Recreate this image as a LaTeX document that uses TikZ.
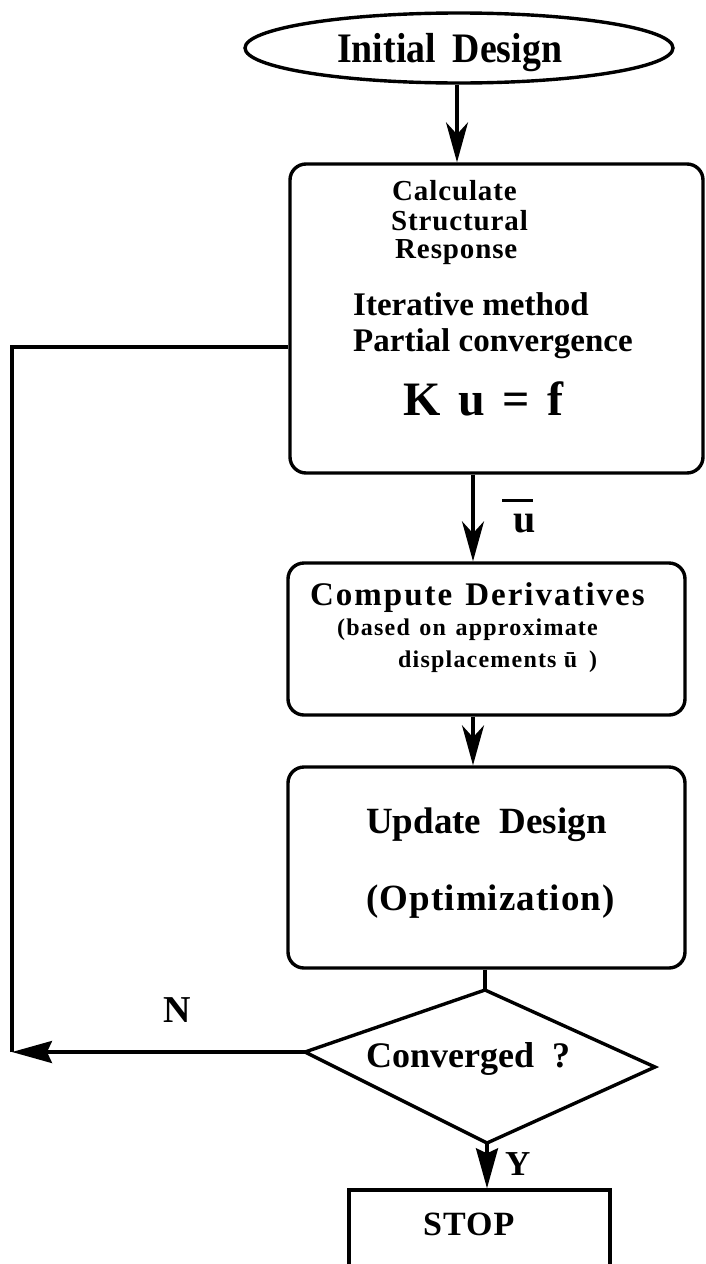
\documentclass[tikz,border=0pt]{standalone}
\usepackage{fontspec}
\setmainfont{Liberation Serif}
\usetikzlibrary{arrows.meta,shapes.geometric,calc}
\newcommand\fsz[1]{\fontsize{#1}{#1}\selectfont\bfseries}
\begin{document}
\begin{tikzpicture}[x=1pt,y=-1pt,
  frame/.style={draw, line width=3.4pt},
  rbox/.style={frame, rectangle, rounded corners=16pt, inner sep=0pt},
  txt/.style={inner sep=0pt, anchor=base west},
  link/.style={line width=3.3pt},
  openhead/.style={link, -{Stealth[length=40pt,width=22pt,inset=12pt]}},
  solidhead/.style={link, -{Stealth[length=40pt,width=22pt,inset=5pt]}}]
\useasboundingbox (0,0) rectangle (705,1264);
\clip (0,0) rectangle (705,1264);

% shapes
\node[frame, ellipse, inner sep=0pt, minimum width=428pt, minimum height=70pt] (start) at (459,48) {};
\node[rbox, minimum width=413pt, minimum height=309pt] (calc) at (496.5,318.5) {};
\node[rbox, minimum width=397pt, minimum height=152pt] (deriv) at (486.5,639) {};
\node[rbox, minimum width=397pt, minimum height=201pt] (update) at (486.5,867.5) {};
\node[frame, rectangle, inner sep=0pt, minimum width=261pt, minimum height=110pt] (stop) at (479.5,1245) {};
\coordinate (dT) at (485,990);
\coordinate (dR) at (655,1067);
\coordinate (dB) at (487,1143);
\coordinate (dL) at (305,1052);
\draw[frame, line join=miter] (dT) -- (dR) -- (dB) -- (dL) -- cycle;

% texts
\node[txt, font=\fsz{42}] (tInit) at (337,62) {\scalebox{0.9}[1]{Initial\hspace{0.45em}Design}};
\node[txt, font=\fsz{29}\addfontfeatures{LetterSpace=3}] (tCalc) at (392,200) {Calculate};
\node[txt, font=\fsz{29}\addfontfeatures{LetterSpace=3}] (tStruct) at (391,230) {Structural};
\node[txt, font=\fsz{29}\addfontfeatures{LetterSpace=3}] (tResp) at (395,258) {Response};
\node[txt, font=\fsz{33}] (tIter) at (353,315) {Iterative method};
\node[txt, font=\fsz{33}] (tPart) at (353,351) {Partial convergence};
\node[txt, font=\fsz{48}] (tKuf) at (403,415) {K\hspace{0.37em}u\hspace{0.37em}=\hspace{0.37em}f};
\node[txt, font=\fsz{33}\addfontfeatures{LetterSpace=6}] (tComp) at (310,605) {Compute\hspace{0.4em}Derivatives};
\node[txt, font=\fsz{24}\addfontfeatures{LetterSpace=5}] (tBased) at (337,635) {(based\hspace{0.4em}on\hspace{0.4em}approximate};
\node[txt, font=\fsz{24}\addfontfeatures{LetterSpace=5}] (tDisp) at (398,667) {displacements ū\hspace{0.5em})};
\node[txt, font=\fsz{37}] (tUpd) at (366,833) {Update\hspace{0.5em}Design};
\node[txt, font=\fsz{37}\addfontfeatures{LetterSpace=3}] (tOpt) at (366,910) {(Optimization)};
\node[txt, font=\fsz{36}] (tConv) at (366,1067) {Converged\hspace{0.5em}?};
\node[txt, font=\fsz{34}\addfontfeatures{LetterSpace=3}] (tStop) at (423,1235) {STOP};
\node[txt, font=\fsz{38}] (tN) at (163,1022) {N};
\node[txt, font=\fsz{35}] (tY) at (505,1175) {Y};
\node[txt, font=\fsz{40}] (tU) at (513,532) {u};
\draw[line width=2.5pt] ([xshift=-11pt,yshift=13pt]tU.north west) -- ++(31,0);

% connectors
\coordinate (a1) at (457,0);
\coordinate (a2) at (473,0);
\draw[openhead] (a1 |- start.south) -- (a1 |- calc.north);
\draw[openhead] (a2 |- calc.south) -- (a2 |- deriv.north);
\draw[openhead] (a2 |- deriv.south) -- (a2 |- update.north);
\draw[link] (dT |- update.south) -- (dT);
\draw[solidhead] (dB) -- (dB |- stop.north);
\coordinate (c1) at (12,1052);
\coordinate (c2) at (12,347);
\draw[solidhead] (dL) -- (c1);
\draw[link, line join=miter] (c1) -- (c2) -- (c2 -| calc.west);
\end{tikzpicture}
\end{document}
